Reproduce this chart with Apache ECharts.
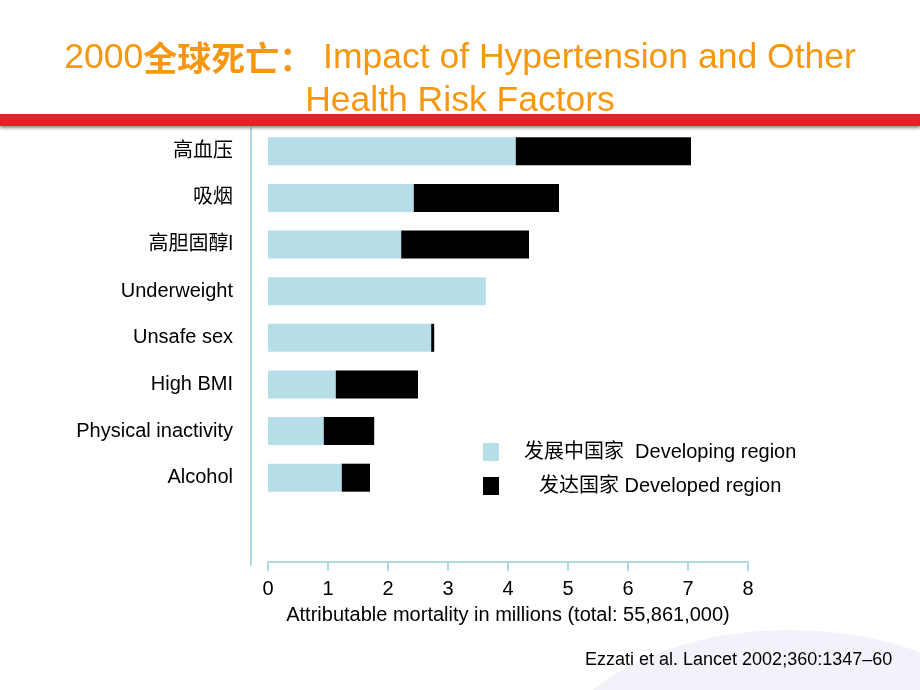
<!DOCTYPE html>
<html>
<head>
<meta charset="utf-8">
<script src="https://cdn.jsdelivr.net/npm/echarts@6/dist/echarts.min.js"></script>
<style>html,body{margin:0;padding:0;background:#fff;}#c{width:920px;height:690px;}</style>
</head>
<body>
<div id="c"></div>
<script>
var categories = ['高血压', '吸烟', '高胆固醇l', 'Underweight', 'Unsafe sex', 'High BMI', 'Physical inactivity', 'Alcohol'];
var developing = [4.13, 2.43, 2.22, 3.63, 2.72, 1.13, 0.93, 1.23];
var developed = [2.92, 2.42, 2.13, 0.0, 0.05, 1.37, 0.84, 0.47];
var seriesNames = ['发展中国家  Developing region', '发达国家 Developed region'];
var xTicks = [0, 1, 2, 3, 4, 5, 6, 7, 8];

var FONT = '"Liberation Sans", Arial, "Noto Sans CJK SC", sans-serif';
var axisBlue = '#acd9e3';
var chart = echarts.init(document.getElementById('c'), null, {renderer: 'canvas'});
chart.setOption({
  backgroundColor: '#ffffff',
  animation: false,
  textStyle: {fontFamily: FONT},
  title: {
    left: 'center',
    top: 37,
    padding: 0,
    text: '{a|2000}{cn|全球死亡：}{a| Impact of Hypertension and Other}\n{a|Health Risk Factors}',
    textStyle: {
      align: 'center',
      rich: {
        a: {fontSize: 35.5, color: '#f7960f', fontWeight: 'normal', fontFamily: FONT, lineHeight: 43, align: 'center'},
        cn: {fontSize: 34, color: '#f7960f', fontWeight: 'bold', fontFamily: '"Noto Sans CJK SC", sans-serif', lineHeight: 43, align: 'center'}
      }
    }
  },
  graphic: [
    {type: 'ellipse', z: -10, shape: {cx: 790, cy: 770, rx: 240, ry: 140}, style: {fill: '#f2f3fa'}},
    {type: 'rect', z: 10, shape: {x: 0, y: 114, width: 920, height: 12},
     style: {fill: '#e42128', shadowBlur: 3, shadowOffsetY: 2, shadowColor: 'rgba(0,0,0,0.45)'}},
    {type: 'text', left: 585, top: 651, style: {text: 'Ezzati et al. Lancet 2002;360:1347–60', font: '18px ' + FONT, fill: '#000'}}
  ],
  legend: {
    orient: 'vertical',
    left: 483,
    top: 442,
    padding: 0,
    itemWidth: 16,
    itemHeight: 18,
    itemGap: 14,
    icon: 'rect',
    data: [
      {name: seriesNames[0], textStyle: {padding: [0, 0, 0, 20]}},
      {name: seriesNames[1], textStyle: {padding: [0, 0, 0, 35]}}
    ],
    textStyle: {fontSize: 20, color: '#000', fontFamily: FONT}
  },
  grid: [
    {left: 268, right: 172, top: 128, height: 373},
    {left: 251, width: 1, top: 128, bottom: 125}
  ],
  xAxis: [
    {
      gridIndex: 0, type: 'value', min: xTicks[0], max: xTicks[xTicks.length - 1], interval: 1,
      offset: 61,
      axisLine: {show: true, lineStyle: {color: axisBlue, width: 2}},
      axisTick: {show: true, length: 9, lineStyle: {color: axisBlue, width: 2}},
      splitLine: {show: false},
      axisLabel: {fontSize: 20, color: '#000', margin: 17, fontFamily: FONT},
      name: 'Attributable mortality in millions (total: 55,861,000)',
      nameLocation: 'middle',
      nameGap: 43,
      nameTextStyle: {fontSize: 20, color: '#000', fontFamily: FONT}
    },
    {gridIndex: 1, type: 'value', show: false}
  ],
  yAxis: [
    {
      gridIndex: 0, type: 'category', data: categories, inverse: true,
      axisLine: {show: false}, axisTick: {show: false},
      axisLabel: {fontSize: 20, color: '#000', margin: 35, fontFamily: FONT}
    },
    {
      gridIndex: 1, type: 'value', min: 0, max: 1,
      axisLine: {show: true, onZero: false, lineStyle: {color: axisBlue, width: 2}},
      axisTick: {show: false}, axisLabel: {show: false}, splitLine: {show: false}
    }
  ],
  series: [
    {name: seriesNames[0], type: 'bar', stack: 'total', barWidth: 28, data: developing,
     itemStyle: {color: '#b5dee8'}},
    {name: seriesNames[1], type: 'bar', stack: 'total', barWidth: 28, data: developed,
     itemStyle: {color: '#000000'}}
  ]
});
</script>
</body>
</html>
